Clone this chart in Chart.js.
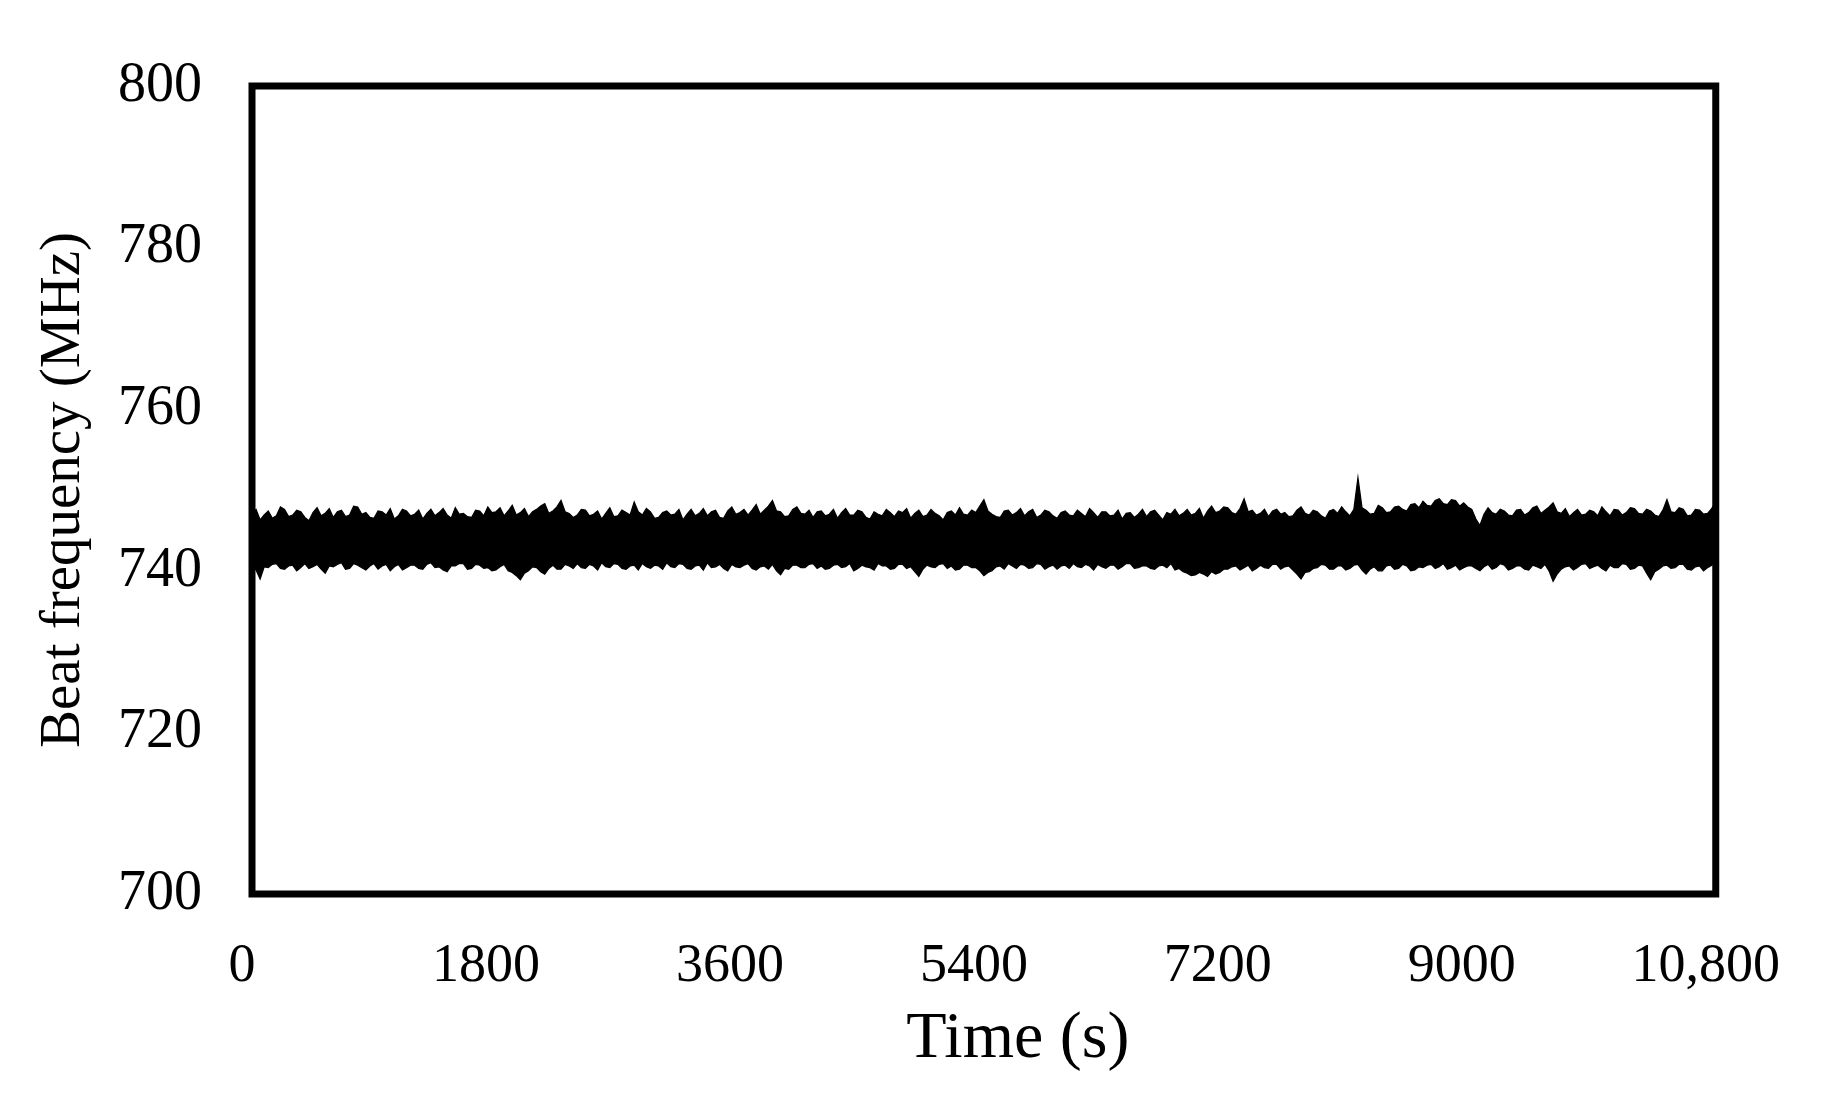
<!DOCTYPE html>
<html>
<head>
<meta charset="utf-8">
<script src="https://cdn.jsdelivr.net/npm/chart.js@4/dist/chart.umd.min.js"></script>
<style>
  html, body { margin: 0; padding: 0; background: #ffffff; }
  #c { display: block; }
</style>
</head>
<body>
<canvas id="c" width="1830" height="1099"></canvas>
<script>
// ---- Data ----
const timesS = [
  0,30,60,90,120,150,180,210,240,270,300,330,360,390,420,450,480,510,540,570,
  600,630,660,690,720,750,780,810,840,870,900,930,960,990,1020,1050,1080,1110,1140,1170,
  1200,1230,1260,1290,1320,1350,1380,1410,1440,1470,1500,1530,1560,1590,1620,1650,1680,1710,1740,1770,
  1800,1830,1860,1890,1920,1950,1980,2010,2040,2070,2100,2130,2160,2190,2220,2250,2280,2310,2340,2370,
  2400,2430,2460,2490,2520,2550,2580,2610,2640,2670,2700,2730,2760,2790,2820,2850,2880,2910,2940,2970,
  3000,3030,3060,3090,3120,3150,3180,3210,3240,3270,3300,3330,3360,3390,3420,3450,3480,3510,3540,3570,
  3600,3630,3660,3690,3720,3750,3780,3810,3840,3870,3900,3930,3960,3990,4020,4050,4080,4110,4140,4170,
  4200,4230,4260,4290,4320,4350,4380,4410,4440,4470,4500,4530,4560,4590,4620,4650,4680,4710,4740,4770,
  4800,4830,4860,4890,4920,4950,4980,5010,5040,5070,5100,5130,5160,5190,5220,5250,5280,5310,5340,5370,
  5400,5430,5460,5490,5520,5550,5580,5610,5640,5670,5700,5730,5760,5790,5820,5850,5880,5910,5940,5970,
  6000,6030,6060,6090,6120,6150,6180,6210,6240,6270,6300,6330,6360,6390,6420,6450,6480,6510,6540,6570,
  6600,6630,6660,6690,6720,6750,6780,6810,6840,6870,6900,6930,6960,6990,7020,7050,7080,7110,7140,7170,
  7200,7230,7260,7290,7320,7350,7380,7410,7440,7470,7500,7530,7560,7590,7620,7650,7680,7710,7740,7770,
  7800,7830,7860,7890,7920,7950,7980,8010,8040,8070,8100,8130,8160,8190,8220,8250,8280,8310,8340,8370,
  8400,8430,8460,8490,8520,8550,8580,8610,8640,8670,8700,8730,8760,8790,8820,8850,8880,8910,8940,8970,
  9000,9030,9060,9090,9120,9150,9180,9210,9240,9270,9300,9330,9360,9390,9420,9450,9480,9510,9540,9570,
  9600,9630,9660,9690,9720,9750,9780,9810,9840,9870,9900,9930,9960,9990,10020,10050,10080,10110,10140,10170,
  10200,10230,10260,10290,10320,10350,10380,10410,10440,10470,10500,10530,10560,10590,10620,10650,10680,10710,10740,10770,
  10800
];

// upper edge of the beat-frequency trace (MHz)
const upperMHz = [
  747.0,747.6,746.3,746.9,747.4,746.5,746.8,747.9,747.6,746.7,746.9,747.5,747.3,746.6,746.2,747.2,747.8,746.8,747.1,747.7,
  746.6,747.3,747.5,746.7,746.9,748.0,747.9,747.0,747.2,746.6,746.5,747.4,747.3,746.9,747.7,746.4,746.8,747.6,747.4,746.8,
  747.0,747.5,746.4,747.1,747.6,746.8,747.2,747.7,746.9,746.5,747.8,747.0,747.1,746.7,746.6,747.5,747.4,746.8,747.9,747.2,
  747.3,747.8,746.8,747.4,748.1,746.9,747.2,747.7,746.7,747.3,747.6,748.0,748.3,747.1,747.4,747.9,748.7,747.3,747.1,746.6,
  746.9,747.6,747.5,746.8,747.0,747.4,746.4,747.1,747.8,746.7,746.8,747.5,747.2,746.9,748.5,747.3,746.9,747.7,747.3,746.5,
  746.6,747.2,747.4,746.9,747.0,747.6,746.3,747.0,747.6,746.8,747.1,747.7,746.8,747.3,747.5,746.6,746.5,747.4,747.9,747.0,
  747.2,747.6,746.9,747.5,748.2,747.0,747.5,748.0,748.7,747.4,747.3,746.7,746.8,747.6,747.9,747.1,747.0,747.5,746.6,747.3,
  747.4,746.8,747.0,747.6,746.5,747.2,747.7,746.9,746.9,747.5,747.3,746.6,746.4,747.3,747.0,746.8,747.6,747.2,746.7,747.4,
  747.2,747.7,746.5,747.1,747.5,746.7,746.9,747.6,747.1,746.8,746.3,747.2,747.4,746.9,747.8,747.0,746.9,747.5,747.2,748.0,
  748.8,747.4,747.0,746.7,746.6,747.4,747.5,746.9,747.2,747.7,746.8,747.3,747.6,746.6,746.9,747.5,747.3,746.8,746.5,747.2,
  747.4,746.9,746.8,747.5,747.1,746.7,747.7,747.2,746.6,747.3,747.3,746.8,746.9,747.5,746.4,747.1,747.2,746.6,747.0,747.6,
  746.7,747.3,747.5,746.9,746.3,747.2,747.0,747.6,746.8,747.1,747.6,746.9,747.1,747.7,746.5,747.4,748.0,747.2,747.4,747.9,
  747.8,747.2,747.0,747.7,748.9,747.3,747.5,746.9,747.1,747.6,746.7,747.4,747.6,747.0,747.2,746.7,746.8,747.5,747.9,747.1,
  746.9,747.5,747.3,746.8,746.5,747.4,747.6,747.1,747.9,747.3,746.8,747.6,751.5,747.8,747.5,747.0,747.1,748.1,747.8,747.2,
  747.3,747.9,748.0,747.6,747.4,748.2,748.3,747.8,748.6,748.1,748.0,748.7,748.9,748.3,748.2,748.8,748.7,748.0,748.4,747.9,
  747.6,746.4,745.6,747.0,747.8,747.2,747.0,747.6,747.4,746.9,746.8,747.5,747.6,746.9,747.2,747.8,748.0,747.1,747.5,747.9,
  748.4,747.3,747.1,747.7,746.7,747.2,747.6,746.9,747.0,747.5,747.3,746.8,747.9,747.3,746.8,747.6,747.5,746.9,747.2,747.8,
  747.7,747.1,747.0,747.6,747.4,746.9,746.7,747.5,748.8,747.3,747.2,747.8,747.6,746.8,746.9,747.6,747.5,747.0,747.1,747.7,
  748.5
];

// lower edge of the beat-frequency trace (MHz)
const lowerMHz = [
  740.6,740.1,739.0,740.5,740.4,740.8,740.9,740.3,740.2,740.6,740.7,740.0,740.4,740.9,740.3,740.5,740.8,740.2,739.7,740.6,
  740.5,740.8,741.0,740.2,740.3,740.9,740.7,740.4,740.1,740.6,740.9,740.2,740.6,740.8,740.0,740.5,740.8,740.1,740.4,740.7,
  740.7,740.3,740.2,740.8,741.0,740.4,740.5,740.1,739.9,740.6,740.6,740.9,740.9,740.2,740.3,740.8,740.7,740.3,740.4,740.0,
  740.1,740.5,740.8,740.0,739.8,739.4,738.9,739.7,740.0,740.5,740.4,739.9,739.6,740.3,740.7,740.2,740.2,740.8,740.6,740.3,
  740.9,740.4,740.3,740.8,740.6,740.1,741.0,740.5,740.4,740.9,740.8,740.3,740.2,740.6,740.7,740.1,740.9,740.5,740.3,740.7,
  740.6,740.2,741.0,740.5,740.4,740.9,740.8,740.3,740.2,740.6,740.7,740.1,741.0,740.4,740.5,740.8,740.3,740.0,740.8,740.5,
  740.4,740.7,740.9,740.3,740.1,740.5,740.6,740.2,740.8,740.0,739.5,740.3,740.2,740.7,740.7,740.4,740.4,740.8,740.9,740.3,
  740.6,740.2,740.3,740.7,740.8,740.4,740.5,740.9,740.0,740.3,740.7,740.5,740.4,740.1,740.9,740.6,740.6,740.2,740.3,740.8,
  740.8,740.3,740.5,739.9,739.3,740.2,740.7,740.5,740.4,740.8,740.9,740.3,740.6,740.1,740.2,740.7,740.7,740.4,740.4,740.0,
  739.4,739.8,740.0,740.5,740.6,740.2,740.9,740.6,740.3,740.8,740.7,740.3,740.4,740.9,740.8,740.2,740.5,740.7,740.2,740.6,
  740.7,740.3,740.9,740.5,740.4,740.8,740.6,740.1,740.8,740.5,740.3,740.7,740.7,740.2,740.5,740.9,740.9,740.3,740.4,740.6,
  740.6,740.3,740.2,740.6,740.7,740.4,740.9,740.1,740.3,739.9,739.7,739.4,739.5,739.8,739.6,739.3,739.9,739.6,739.8,740.2,
  740.2,740.5,740.6,740.1,740.4,740.7,740.0,740.3,740.7,740.4,740.3,740.8,740.8,740.2,740.5,740.6,740.1,739.6,739.0,739.8,
  739.9,740.3,740.4,740.8,740.7,740.2,740.2,740.6,740.6,740.1,740.3,740.7,740.8,740.1,739.6,740.2,740.5,740.0,740.0,740.6,
  740.7,740.2,740.3,740.8,740.6,740.0,740.1,740.5,740.4,740.7,740.8,740.3,740.5,740.9,740.2,740.4,740.7,740.1,740.4,740.6,
  740.6,740.3,740.0,740.5,740.8,740.2,740.4,740.9,740.7,740.1,740.3,740.6,740.6,740.2,740.1,740.7,740.5,740.3,740.8,740.0,
  738.7,739.6,740.2,740.5,740.6,740.1,740.4,740.8,740.9,740.3,740.5,740.7,740.3,740.0,740.7,740.4,740.4,740.9,740.8,740.2,
  740.3,740.7,740.6,739.7,738.9,739.9,740.2,740.6,740.7,740.3,740.4,740.8,740.8,740.2,740.1,740.5,740.6,740.0,740.4,740.7,
  741.0
];

const xTickValues = [0, 1800, 3600, 5400, 7200, 9000, 10800];
const xTickLabels = ['0', '1800', '3600', '5400', '7200', '9000', '10,800'];
const yTickValues = [700, 720, 740, 760, 780, 800];

const xTitle = 'Time (s)';
const yTitle = 'Beat frequency (MHz)';

// ---- Chart ----
const serif = "'Liberation Serif', 'Times New Roman', Times, serif";

const upperPoints = timesS.map((t, i) => ({ x: t, y: upperMHz[i] }));
const lowerPoints = timesS.map((t, i) => ({ x: t, y: lowerMHz[i] }));

const bgPlugin = {
  id: 'bg',
  beforeDraw(chart) {
    const ctx = chart.ctx;
    ctx.save();
    ctx.fillStyle = '#ffffff';
    ctx.fillRect(0, 0, chart.width, chart.height);
    ctx.restore();
  }
};

const framePlugin = {
  id: 'frame',
  afterDatasetsDraw(chart) {
    const { ctx, chartArea: a } = chart;
    ctx.save();
    ctx.lineWidth = 7;
    ctx.strokeStyle = '#000000';
    ctx.strokeRect(a.left, a.top, a.right - a.left, a.bottom - a.top);
    ctx.restore();
  }
};

new Chart(document.getElementById('c'), {
  type: 'line',
  data: {
    datasets: [
      {
        label: 'upper',
        data: upperPoints,
        borderColor: '#000000',
        borderWidth: 1.3,
        pointRadius: 0,
        tension: 0,
        fill: false
      },
      {
        label: 'lower',
        data: lowerPoints,
        borderColor: '#000000',
        borderWidth: 1.3,
        pointRadius: 0,
        tension: 0,
        fill: '-1',
        backgroundColor: '#000000'
      }
    ]
  },
  options: {
    responsive: false,
    devicePixelRatio: 1,
    animation: false,
    layout: { padding: { left: 0, right: 102, top: 86, bottom: 0 } },
    plugins: {
      legend: { display: false },
      tooltip: { enabled: false }
    },
    scales: {
      x: {
        type: 'linear',
        min: 0,
        max: 10800,
        afterBuildTicks(scale) { scale.ticks = xTickValues.map(v => ({ value: v })); },
        afterFit(scale) {
          scale.height = 205;
          if (!scale._titleShifted) {
            const origDrawTitle = scale.drawTitle.bind(scale);
            scale.drawTitle = function () {
              const ctx = this.ctx;
              ctx.save();
              ctx.translate(34, 0);
              origDrawTitle();
              ctx.restore();
            };
            scale._titleShifted = true;
          }
        },
        grid: { display: false, drawTicks: false },
        border: { display: false },
        ticks: {
          autoSkip: false,
          maxRotation: 0,
          padding: 40,
          labelOffset: -10,
          color: '#000000',
          font: { family: serif, size: 54 },
          callback(value) {
            const i = xTickValues.indexOf(value);
            return i >= 0 ? xTickLabels[i] : '';
          }
        },
        title: {
          display: true,
          text: xTitle,
          color: '#000000',
          font: { family: serif, size: 66 },
          padding: { top: 0, bottom: 20 }
        }
      },
      y: {
        type: 'linear',
        min: 700,
        max: 800,
        afterBuildTicks(scale) { scale.ticks = yTickValues.map(v => ({ value: v })); },
        afterFit(scale) { scale.width = 252; },
        grid: { display: false, drawTicks: false },
        border: { display: false },
        ticks: {
          padding: 50,
          color: '#000000',
          font: { family: serif, size: 56 }
        },
        title: {
          display: true,
          text: yTitle,
          color: '#000000',
          font: { family: serif, size: 57 },
          padding: { top: 30, bottom: 0 }
        }
      }
    }
  },
  plugins: [bgPlugin, framePlugin]
});
</script>
</body>
</html>
